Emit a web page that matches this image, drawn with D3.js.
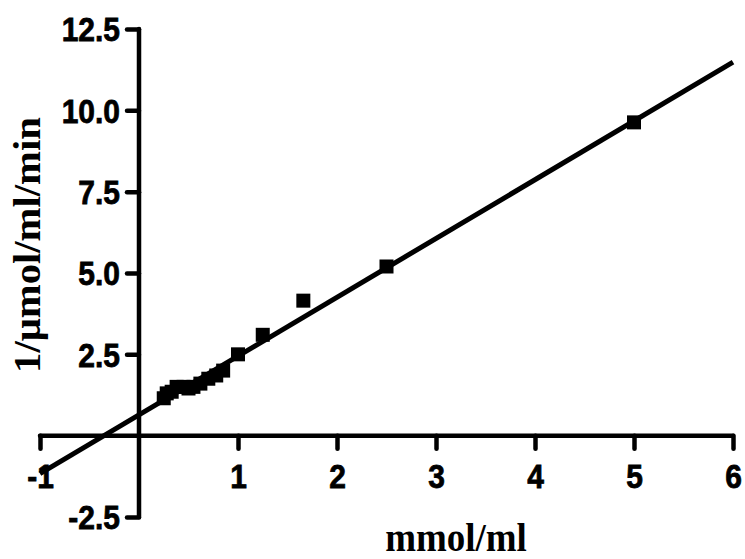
<!DOCTYPE html>
<html>
<head>
<meta charset="utf-8">
<script src="https://cdn.jsdelivr.net/npm/d3@7"></script>
<style>
  body { margin: 0; background: #fff; }
  .axis path, .axis line { stroke: #000; stroke-width: 4.5; stroke-linecap: round; }
  .axis text { font-family: "Liberation Sans", Arial, sans-serif; font-weight: bold; font-size: 30px; fill: #000; stroke: #000; stroke-width: 0.7; }
  .title { font-family: "Liberation Serif", "Times New Roman", serif; font-weight: bold; font-size: 37px; fill: #000; }
</style>
</head>
<body>
<svg id="chart" width="745" height="559"></svg>
<script>
// data (1/[S] vs 1/v)
const xValues = [0.25, 0.28, 0.33, 0.38, 0.45, 0.5, 0.55, 0.62, 0.7, 0.78, 0.85, 1.0, 1.25, 1.66, 2.5, 5.0];
const yValues = [1.15, 1.3, 1.35, 1.5, 1.5, 1.45, 1.5, 1.6, 1.75, 1.85, 2.0, 2.5, 3.1, 4.15, 5.2, 9.63];

// fitted regression line
const fitSlope = 1.807;
const fitIntercept = 0.64;
const fitRange = [-1, 6];

// ticks
const xTicks = [-1, 1, 2, 3, 4, 5, 6];
const yTicks = [-2.5, 2.5, 5.0, 7.5, 10.0, 12.5];

const svg = d3.select("#chart");

const xScale = d3.scaleLinear().domain([-1, 6]).range([40, 733]);
const yScale = d3.scaleLinear().domain([-2.5, 12.5]).range([517, 29]);

const hyphen = (f) => (d) => f(d).replace("\u2212", "-");

// text in the original is a little taller than wide
function stretch(g) {
  g.selectAll("text").each(function () {
    const t = d3.select(this);
    const x = +t.attr("x") || 0;
    const y = +t.attr("y") || 0;
    t.attr("x", 0).attr("y", 0)
      .attr("transform", `translate(${x}, ${y}) scale(1, 1.1)`);
  });
}

// axes cross at the origin
const xAxis = d3.axisBottom(xScale)
  .tickValues(xTicks)
  .tickFormat(hyphen(d3.format("d")))
  .tickSize(13)
  .tickSizeOuter(0)
  .tickPadding(16);

const yAxis = d3.axisLeft(yScale)
  .tickValues(yTicks)
  .tickFormat(hyphen(d3.format(".1f")))
  .tickSize(12)
  .tickPadding(7);

svg.append("g")
  .attr("class", "axis xAxis")
  .attr("transform", `translate(0, ${yScale(0)})`)
  .call(xAxis)
  .call((g) => g.select(".domain").attr("d", `M${xScale(-1)},0H${xScale(6)}`))
  .call(stretch);

svg.append("g")
  .attr("class", "axis yAxis")
  .attr("transform", `translate(${xScale(0)}, 0)`)
  .call(yAxis)
  .call((g) => g.select(".domain").attr("d", `M0,${yScale(12.5)}V${yScale(-2.5)}`))
  .call((g) => g.selectAll("text").attr("dy", "0.36em"))
  .call(stretch);

svg.selectAll(".axis .domain").attr("fill", "none");

// regression line
const lineGen = d3.line()
  .x((d) => xScale(d))
  .y((d) => yScale(fitSlope * d + fitIntercept));

svg.append("path")
  .attr("class", "fit")
  .attr("d", lineGen(fitRange))
  .attr("fill", "none")
  .attr("stroke", "#000")
  .attr("stroke-width", 5);

// points
const size = 14;
svg.selectAll(".pt")
  .data(xValues.map((x, i) => ({ x, y: yValues[i] })))
  .join("rect")
  .attr("class", "pt")
  .attr("x", (d) => xScale(d.x) - size / 2)
  .attr("y", (d) => yScale(d.y) - size / 2)
  .attr("width", size)
  .attr("height", size)
  .attr("fill", "#000");

// titles
svg.append("text")
  .attr("class", "title")
  .attr("transform", "translate(456, 551) scale(1, 1.1)")
  .attr("text-anchor", "middle")
  .text("mmol/ml");

svg.append("text")
  .attr("class", "title")
  .attr("transform", "translate(40, 245) rotate(-90) scale(1.1, 1)")
  .attr("text-anchor", "middle")
  .text("1/μmol/ml/min");
</script>
</body>
</html>
